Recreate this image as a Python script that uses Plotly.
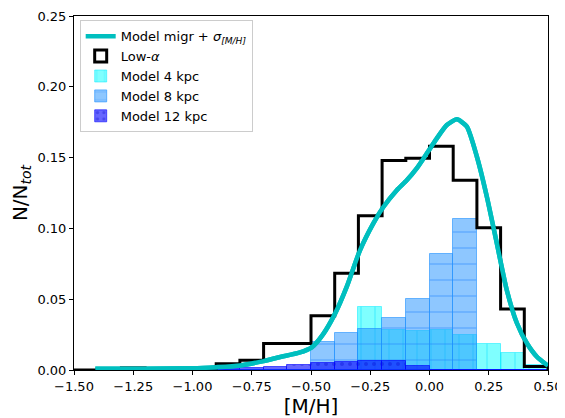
import plotly.graph_objects as go

# ---------------- data ----------------
bin_edges = [round(-1.5 + 0.1 * i, 2) for i in range(21)]
bin_centers = [round(-1.45 + 0.1 * i, 2) for i in range(20)]

low_alpha = [0, 0, 0.0015, 0, 0, 0.0015, 0.0045, 0.0068, 0.0188, 0.0188,
             0.0383, 0.0683, 0.109, 0.148, 0.1495, 0.158, 0.134, 0.1005, 0.043, 0.0025]

model_4kpc = [0, 0, 0, 0, 0, 0, 0, 0, 0, 0,
              0, 0, 0.0447, 0.0285, 0.0278, 0.0283, 0.0247, 0.0184, 0.0122, 0.0032]

model_8kpc = [0, 0, 0, 0, 0, 0, 0, 0, 0, 0,
              0.020, 0.026, 0.029, 0.0365, 0.050, 0.082, 0.1065, 0, 0, 0]

model_12kpc = [0, 0, 0, 0, 0, 0.0005, 0.001, 0.0015, 0.0024, 0.0035,
               0.0047, 0.0054, 0.0064, 0.0064, 0.0026, 0, 0, 0, 0, 0]

curve_x = [-1.41, -1.2, -1.0, -0.9, -0.8, -0.7, -0.63, -0.55, -0.497, -0.45, -0.398,
           -0.349, -0.293, -0.237, -0.194, -0.138, -0.096, -0.054, -0.011, 0.031, 0.073,
           0.115, 0.157, 0.2, 0.242, 0.284, 0.326, 0.369, 0.411, 0.453, 0.5]
curve_y = [0.0008, 0.0009, 0.0012, 0.002, 0.0032, 0.0063, 0.0092, 0.0122, 0.016, 0.025, 0.040,
           0.0589, 0.0847, 0.1036, 0.1153, 0.127, 0.134, 0.1424, 0.153, 0.1636, 0.173,
           0.177, 0.172, 0.1506, 0.1224, 0.0895, 0.0565, 0.033, 0.0189, 0.0094, 0.003]

x_ticks = [-1.5, -1.25, -1.0, -0.75, -0.5, -0.25, 0.0, 0.25, 0.5]
y_ticks = [0.0, 0.05, 0.10, 0.15, 0.20, 0.25]

FONT = "DejaVu Sans"
CURVE_NAME = "Model migr + <i>σ</i><sub><i>[M/H]</i></sub>"

fig = go.Figure()

# model curve (legend entry)
fig.add_trace(go.Scatter(
    x=curve_x, y=curve_y, mode="lines",
    line=dict(color="#00bfbf", width=4.5, shape="spline", smoothing=0.6),
    name=CURVE_NAME))

# legend proxy for the Low-alpha step histogram
fig.add_trace(go.Bar(
    x=[None], y=[None], name="Low-<i>α</i>",
    marker=dict(color="white", line=dict(color="black", width=3))))

# model histograms
fig.add_trace(go.Bar(
    x=bin_centers, y=model_4kpc, width=0.1, name="Model 4 kpc",
    marker=dict(color="rgba(0,255,255,0.5)",
                line=dict(color="rgba(0,235,255,0.5)", width=1),
                pattern=dict(shape="|", size=14, solidity=0.12, fillmode="overlay",
                             fgcolor="rgba(0,220,255,0.6)"))))
fig.add_trace(go.Bar(
    x=bin_centers, y=model_8kpc, width=0.1, name="Model 8 kpc",
    marker=dict(color="rgba(30,144,255,0.5)",
                line=dict(color="rgba(30,144,255,0.6)", width=1),
                pattern=dict(shape="-", size=16, solidity=0.12, fillmode="overlay",
                             fgcolor="rgba(30,130,255,0.6)"))))
fig.add_trace(go.Bar(
    x=bin_centers, y=model_12kpc, width=0.1, name="Model 12 kpc",
    marker=dict(color="rgba(0,0,255,0.6)",
                line=dict(color="rgba(0,0,255,0.6)", width=1),
                pattern=dict(shape=".", size=8, solidity=0.2, fillmode="overlay",
                             fgcolor="rgba(0,0,200,0.6)"))))

# Low-alpha step outline
step_x = [bin_edges[0]] + bin_edges[:-1] + [bin_edges[-1]]
step_y = [0] + low_alpha + [0]
fig.add_trace(go.Scatter(
    x=step_x, y=step_y, mode="lines", line=dict(color="black", width=3, shape="hv"),
    showlegend=False, hoverinfo="skip"))

# re-draw curve on top of the step line
fig.add_trace(go.Scatter(
    x=curve_x, y=curve_y, mode="lines",
    line=dict(color="#00bfbf", width=4.5, shape="spline", smoothing=0.6),
    showlegend=False, hoverinfo="skip"))

# page body adds an 8px offset; figure sized so it ends at the window edge
fig.update_layout(
    width=557, height=410,
    margin=dict(l=66, r=17, t=8, b=48, autoexpand=False),
    paper_bgcolor="white", plot_bgcolor="white",
    barmode="overlay", bargap=0,
    font=dict(family=FONT, size=13, color="black"),
    showlegend=True,
    legend=dict(x=0.012, y=0.988, xanchor="left", yanchor="top",
                bgcolor="rgba(255,255,255,0.8)", bordercolor="#cccccc", borderwidth=1,
                font=dict(family=FONT, size=13, color="black"),
                traceorder="normal", tracegroupgap=0, itemwidth=30),
)

fig.update_xaxes(
    range=[-1.5, 0.5], tickvals=x_ticks, tickformat=".2f", automargin=False,
    ticklabeloverflow="allow",
    showline=True, linecolor="black", linewidth=1, mirror=True,
    ticks="outside", ticklen=4, tickcolor="black", showgrid=False, zeroline=False,
    tickfont=dict(family=FONT, size=13),
    title=dict(text="[M/H]", font=dict(family=FONT, size=20), standoff=1))

fig.update_yaxes(
    range=[0, 0.25], tickvals=y_ticks, tickformat=".2f", automargin=False,
    ticklabeloverflow="allow",
    showline=True, linecolor="black", linewidth=1, mirror=True,
    ticks="outside", ticklen=4, tickcolor="black", showgrid=False, zeroline=False,
    tickfont=dict(family=FONT, size=13),
    title=dict(text="N/N<sub><i>tot</i></sub>", font=dict(family=FONT, size=20), standoff=6))

fig.write_html("out.html")
